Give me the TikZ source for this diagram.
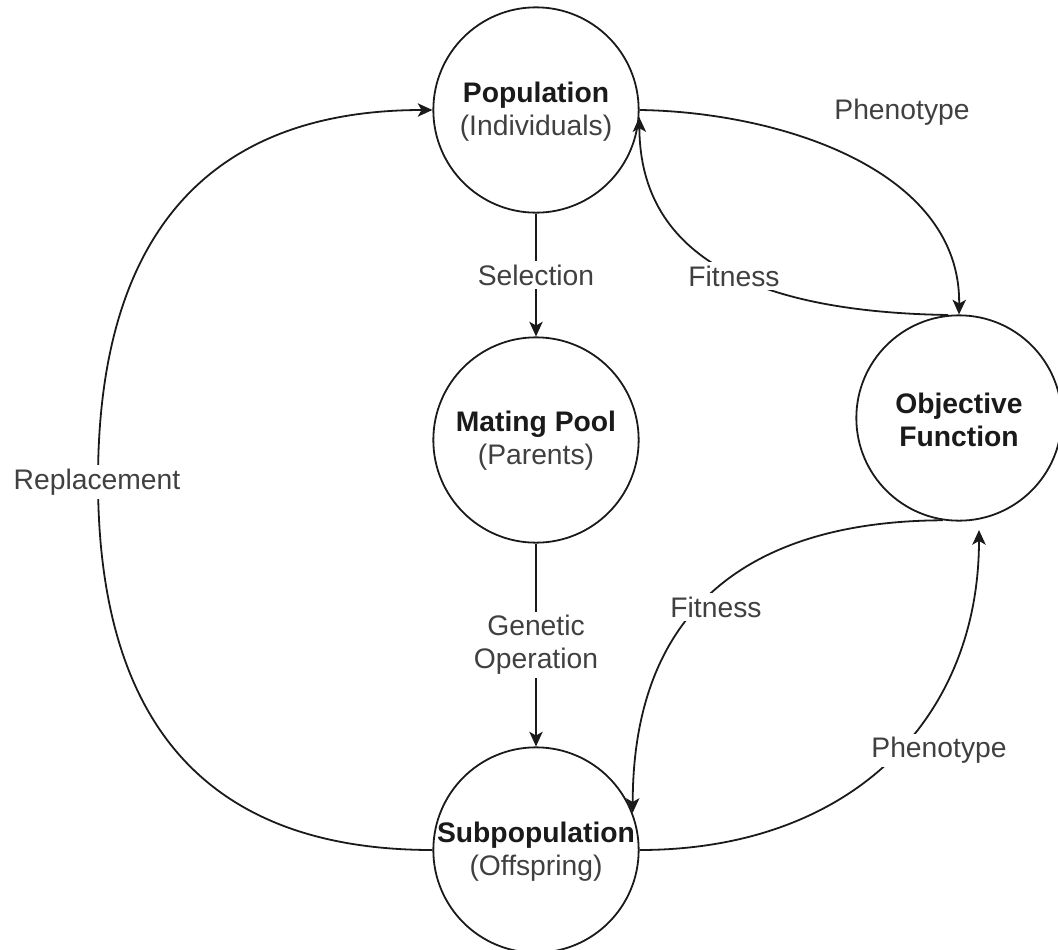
\documentclass[tikz,border=0pt]{standalone}
\usepackage{fontspec}
\setmainfont{Liberation Sans}
\usetikzlibrary{arrows.meta}
\definecolor{inkdark}{HTML}{1A1A1A}
\definecolor{inksoft}{HTML}{404040}
\begin{document}
\begin{tikzpicture}[x=0.75pt,y=-0.75pt,
  every node/.style={font=\fontsize{21.2pt}{24.75pt}\selectfont},
  stage/.style={draw=inkdark, circle, minimum size=154pt, inner sep=0pt, line width=1.35pt},
  stagetext/.style={align=center, inner sep=0pt, text=inksoft},
  edgetext/.style={fill=white, align=center, text=inksoft, inner sep=2.5pt},
  flow/.style={draw=inkdark, line width=1.35pt, -{Stealth[length=11pt,width=10pt,inset=2.8pt]}}]
\useasboundingbox (0,0) rectangle (1058,950);

% stages of the evolutionary loop
\node[stage] (pop)  at (536,110) {};
\node[stage] (mate) at (536,440) {};
\node[stage] (sub)  at (536,850) {};
\node[stage] (obj)  at (959,418) {};

\node[stagetext] (poptxt)  at (536,112) {\textcolor{inkdark}{\bfseries Population}\\(Individuals)};
\node[stagetext] (matetxt) at (536,441) {\textcolor{inkdark}{\bfseries Mating Pool}\\(Parents)};
\node[stagetext] (subtxt)  at (536,852) {\textcolor{inkdark}{\bfseries Subpopulation}\\(Offspring)};
\node[stagetext] (objtxt)  at (959,420) {\textcolor{inkdark}{\bfseries Objective}\\\textcolor{inkdark}{\bfseries Function}};

% free end of the lower phenotype arrow, just below the objective circle
\coordinate (objin) at (979,530);

% straight transitions
\draw[flow] (pop.south) -- (mate.north)
  node[edgetext, pos=0.5] (selx) {Selection};
\draw[flow] (mate.south) -- (sub.north)
  node[edgetext, pos=0.5] (genx) {Genetic\\Operation};

% replacement loop on the left
\draw[flow] (sub.west) .. controls (208,850) and (98,725) .. (98,480)
  .. controls (98,235) and (208,110) .. (pop.west);
\node[edgetext] (replx) at (97,482) {Replacement};

% evaluation with the objective function
\draw[flow] (pop.east) .. controls (780,112) and (961,170) .. (obj.north);
\node[text=inksoft] (phenoa) at (902,112) {Phenotype};

\draw[flow] (obj.96) .. controls (760,312) and (640,260) .. (pop.-4);
\node[edgetext] (fita) at (734,276) {Fitness};

\draw[flow] (obj.-99) .. controls (760,521) and (633,600) .. (sub.21);
\node[edgetext] (fitb) at (716,607) {Fitness};

\draw[flow] (sub.east) .. controls (850,850) and (979,720) .. (objin);
\node[edgetext] (phenob) at (939,750) {Phenotype};
\end{tikzpicture}
\end{document}
